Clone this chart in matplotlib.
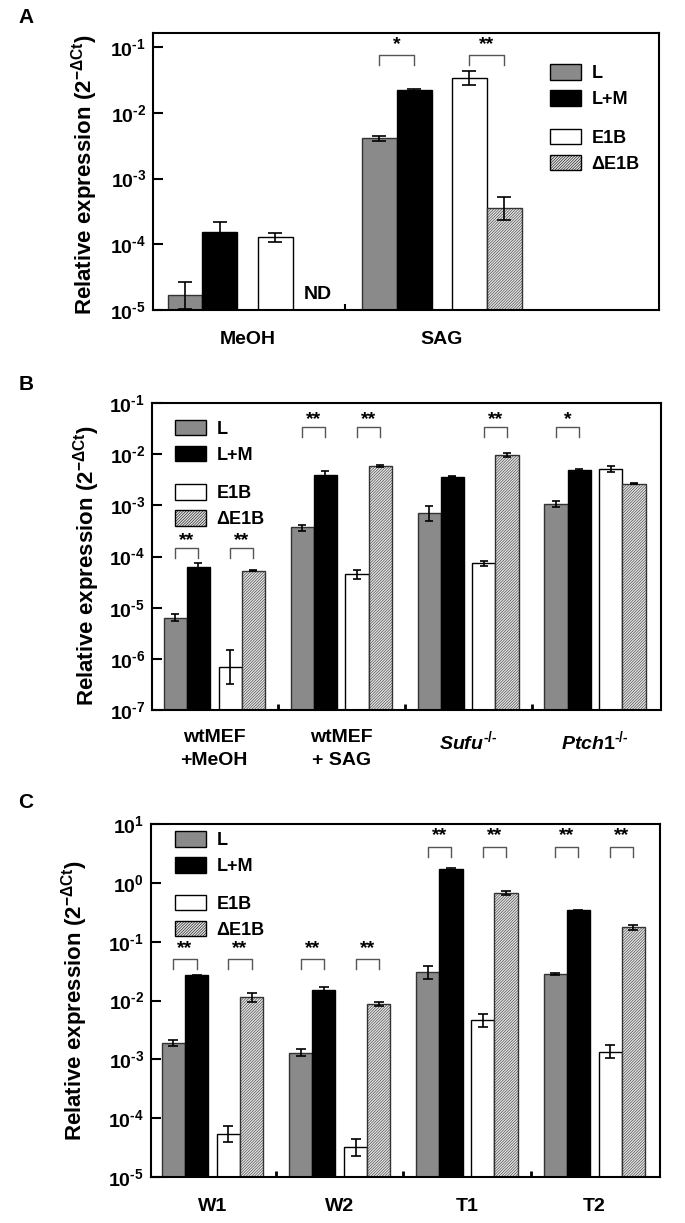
import numpy as np
import matplotlib
matplotlib.use('Agg')
from matplotlib import pyplot as plt
from matplotlib.patches import Patch
from matplotlib.ticker import FixedLocator, NullLocator

plt.rcParams['font.family'] = ['Liberation Sans', 'DejaVu Sans']
plt.rcParams['font.weight'] = 'bold'
plt.rcParams['mathtext.fontset'] = 'custom'
plt.rcParams['mathtext.rm'] = 'Liberation Sans:bold'
plt.rcParams['mathtext.it'] = 'Liberation Sans:italic:bold'
plt.rcParams['mathtext.bf'] = 'Liberation Sans:bold'
plt.rcParams['hatch.linewidth'] = 0.4

# ---------------- data ----------------
series_names = ['L', 'L+M', 'E1B', '\u0394E1B']

# panel A
groups_a = ['MeOH', 'SAG']
a_L = [1.7e-5, 4.1e-3]
a_L_lo = [1.02e-5, 3.76e-3]
a_L_hi = [2.7e-5, 4.4e-3]
a_LM = [1.52e-4, 2.22e-2]
a_LM_lo = [1.2e-4, 2.18e-2]
a_LM_hi = [2.19e-4, 2.27e-2]
a_E1B = [1.28e-4, 3.4e-2]
a_E1B_lo = [1.1e-4, 2.64e-2]
a_E1B_hi = [1.47e-4, 4.3e-2]
a_dE1B = [np.nan, 3.6e-4]          # ND for MeOH
a_dE1B_lo = [np.nan, 2.34e-4]
a_dE1B_hi = [np.nan, 5.2e-4]

# panel B
groups_b = ['wtMEF\n+MeOH', 'wtMEF\n+ SAG', r'$\mathit{Sufu}^{\text{-/-}}$',
            r'$\mathit{Ptch1}^{\text{-/-}}$']
b_L = [6.4e-6, 3.7e-4, 7.0e-4, 1.08e-3]
b_L_lo = [5.5e-6, 3.2e-4, 5.0e-4, 9.3e-4]
b_L_hi = [7.4e-6, 4.2e-4, 9.5e-4, 1.24e-3]
b_LM = [6.1e-5, 3.9e-3, 3.6e-3, 4.8e-3]
b_LM_lo = [5.0e-5, 3.4e-3, 3.5e-3, 4.5e-3]
b_LM_hi = [7.4e-5, 4.6e-3, 3.7e-3, 5.2e-3]
b_E1B = [6.8e-7, 4.5e-5, 7.3e-5, 5.2e-3]
b_E1B_lo = [3.2e-7, 3.6e-5, 6.6e-5, 4.4e-3]
b_E1B_hi = [1.5e-6, 5.4e-5, 8.0e-5, 6.0e-3]
b_dE1B = [5.3e-5, 5.8e-3, 9.7e-3, 2.67e-3]
b_dE1B_lo = [5.1e-5, 5.5e-3, 8.8e-3, 2.6e-3]
b_dE1B_hi = [5.5e-5, 6.1e-3, 1.07e-2, 2.74e-3]

# panel C
groups_c = ['W1', 'W2', 'T1', 'T2']
c_L = [1.9e-3, 1.3e-3, 3.0e-2, 2.8e-2]
c_L_lo = [1.7e-3, 1.12e-3, 2.3e-2, 2.7e-2]
c_L_hi = [2.1e-3, 1.5e-3, 3.8e-2, 2.9e-2]
c_LM = [2.7e-2, 1.48e-2, 1.7, 0.34]
c_LM_lo = [2.65e-2, 1.3e-2, 1.6, 0.33]
c_LM_hi = [2.75e-2, 1.7e-2, 1.8, 0.35]
c_E1B = [5.4e-5, 3.2e-5, 4.6e-3, 1.35e-3]
c_E1B_lo = [4.0e-5, 2.3e-5, 3.6e-3, 1.04e-3]
c_E1B_hi = [7.3e-5, 4.5e-5, 5.9e-3, 1.75e-3]
c_dE1B = [1.13e-2, 8.7e-3, 0.68, 0.177]
c_dE1B_lo = [9.6e-3, 8.0e-3, 0.62, 0.16]
c_dE1B_hi = [1.33e-2, 9.4e-3, 0.74, 0.195]

# significance brackets: (group, first series, second series, stars)
sig_a = [(1, 0, 1, '*'), (1, 2, 3, '**')]
sig_b = [(0, 0, 1, '**'), (0, 2, 3, '**'), (1, 0, 1, '**'), (1, 2, 3, '**'),
         (2, 2, 3, '**'), (3, 0, 1, '*')]
sig_c = [(g, s, s + 1, '**') for g in range(4) for s in (0, 2)]

# ---------------- styles ----------------
styles = [dict(color='#8a8a8a', edgecolor='#333333'),
          dict(color='black', edgecolor='black'),
          dict(color='white', edgecolor='black'),
          dict(color='#e4e4e4', edgecolor='#333333', hatch='/' * 12)]


def draw_panel(ax, groups, vals, los, his, offsets, width, ymin, ymax,
               xlim, capsize):
    x = np.arange(len(groups))
    for k in range(4):
        v = np.array(vals[k], dtype=float)
        lo = np.array(los[k], dtype=float)
        hi = np.array(his[k], dtype=float)
        ok = ~np.isnan(v)
        xs = x[ok] + offsets[k]
        ax.bar(xs, v[ok] - ymin, bottom=ymin, width=width, linewidth=1.0,
               zorder=2, **styles[k])
        ax.errorbar(xs, v[ok], yerr=[v[ok] - lo[ok], hi[ok] - v[ok]], fmt='none',
                    ecolor='black', elinewidth=1.2, capsize=capsize,
                    capthick=1.2, zorder=3)
    ax.set_yscale('log')
    ax.set_ylim(ymin, ymax)
    ax.set_xlim(*xlim)
    decades = np.arange(int(np.ceil(np.log10(ymin))), int(np.floor(np.log10(ymax))) + 1)
    ax.yaxis.set_major_locator(FixedLocator(10.0 ** decades))
    ax.set_yticklabels([r'$\mathrm{10}^{\text{%d}}$' % d for d in decades])
    ax.yaxis.set_minor_locator(NullLocator())
    ax.tick_params(axis='y', which='major', direction='in', length=7, width=1.5,
                   labelsize=14, pad=5, right=False)
    ax.set_xticks(x, groups, minor=True)
    ax.tick_params(axis='x', which='minor', length=0, labelsize=14, pad=13)
    for sp in ax.spines.values():
        sp.set_linewidth(1.5)
    ax.set_ylabel(r'Relative expression (2$^{\mathrm{-\Delta Ct}}$)', fontsize=16,
                  fontweight='bold')
    return x


def add_brackets(ax, sigs, x, offsets, tops, legs, stars):
    for g, s1, s2, txt in sigs:
        x1 = x[g] + offsets[s1]
        x2 = x[g] + offsets[s2]
        t, l, st = tops[g], legs[g], stars[g]
        ax.plot([x1, x1, x2, x2], [l, t, t, l], color='#555555', lw=1.0, zorder=4)
        ax.text((x1 + x2) / 2, st, txt, ha='center', va='center', fontsize=14,
                fontweight='bold', zorder=4)


def add_legend(ax, x0, ytop1, ytop2):
    handles = [Patch(facecolor=styles[k]['color'], edgecolor='black',
                     hatch=styles[k].get('hatch'), linewidth=1.0) for k in range(4)]
    kw = dict(loc='upper left', frameon=False, handlelength=1.7,
              handleheight=0.95, handletextpad=0.6, labelspacing=0.45,
              borderpad=0, borderaxespad=0, prop=dict(weight='bold', size=13))
    leg1 = ax.legend(handles[:2], series_names[:2], bbox_to_anchor=(x0, ytop1), **kw)
    ax.add_artist(leg1)
    ax.legend(handles[2:], series_names[2:], bbox_to_anchor=(x0, ytop2), **kw)


fig = plt.figure(figsize=(6.85, 12.23), dpi=100)
W, H = 685.0, 1223.0

# ----- panel A -----
axA = fig.add_axes([153 / W, 1 - 310 / H, 506 / W, 277 / H])
offs_a = [-0.322, -0.142, 0.142, 0.322]
xa = draw_panel(axA, groups_a, [a_L, a_LM, a_E1B, a_dE1B],
                [a_L_lo, a_LM_lo, a_E1B_lo, a_dE1B_lo],
                [a_L_hi, a_LM_hi, a_E1B_hi, a_dE1B_hi],
                offs_a, 0.18, 1e-5, 10 ** -0.787, (-0.487, 2.12), 5)
axA.set_xticks([0.5])
axA.set_xticklabels([''])
axA.tick_params(axis='x', which='major', direction='in', length=4, width=1.5)
axA.tick_params(axis='x', which='minor', pad=15)
axA.text(xa[0] + 0.36, 1.7e-5, 'ND', ha='center', va='center', fontsize=14,
         fontweight='bold')
add_brackets(axA, sig_a, xa, offs_a, [0, 10 ** -1.12], [0, 10 ** -1.27], [0, 10 ** -0.97])
add_legend(axA, 0.785, 0.888, 0.655)
axA.yaxis.set_label_coords(-0.104, 0.49)

# ----- panel B -----
axB = fig.add_axes([152 / W, 1 - 710 / H, 509 / W, 307 / H])
offs_bc = [-0.307, -0.125, 0.125, 0.307]
xb = draw_panel(axB, groups_b, [b_L, b_LM, b_E1B, b_dE1B],
                [b_L_lo, b_LM_lo, b_E1B_lo, b_dE1B_lo],
                [b_L_hi, b_LM_hi, b_E1B_hi, b_dE1B_hi],
                offs_bc, 0.182, 1e-7, 1e-1, (-0.49, 3.52), 3)
axB.set_xticks([0.5, 1.5, 2.5])
axB.set_xticklabels(['', '', ''])
axB.tick_params(axis='x', which='major', direction='in', length=4, width=2)
axB.tick_params(axis='x', which='minor', pad=14)
for lab in axB.get_xticklabels(minor=True):
    lab.set_linespacing(1.45)
b_top = [10 ** -3.825, 10 ** -1.478, 10 ** -1.478, 10 ** -1.478]
b_leg = [10 ** -4.034, 10 ** -1.668, 10 ** -1.668, 10 ** -1.668]
b_star = [10 ** -3.69, 10 ** -1.33, 10 ** -1.33, 10 ** -1.33]
add_brackets(axB, sig_b, xb, offs_bc, b_top, b_leg, b_star)
add_legend(axB, 0.045, 0.946, 0.735)
axB.yaxis.set_label_coords(-0.099, 0.47)

# ----- panel C -----
axC = fig.add_axes([151 / W, 1 - 1177 / H, 509 / W, 353 / H])
xc = draw_panel(axC, groups_c, [c_L, c_LM, c_E1B, c_dE1B],
                [c_L_lo, c_LM_lo, c_E1B_lo, c_dE1B_lo],
                [c_L_hi, c_LM_hi, c_E1B_hi, c_dE1B_hi],
                offs_bc, 0.182, 1e-5, 1e1, (-0.483, 3.517), 3.5)
axC.set_xticks([0.5, 1.5, 2.5])
axC.set_xticklabels(['', '', ''])
axC.tick_params(axis='x', which='major', direction='in', length=4, width=2)
axC.tick_params(axis='x', which='minor', pad=15)
c_top = [10 ** -1.302, 10 ** -1.302, 10 ** 0.617, 10 ** 0.617]
c_leg = [10 ** -1.472, 10 ** -1.472, 10 ** 0.447, 10 ** 0.447]
c_star = [10 ** -1.11, 10 ** -1.11, 10 ** 0.804, 10 ** 0.804]
add_brackets(axC, sig_c, xc, offs_bc, c_top, c_leg, c_star)
add_legend(axC, 0.047, 0.98, 0.80)
axC.yaxis.set_label_coords(-0.12, 0.5)

for lbl, yy in (('A', 17.5), ('B', 384), ('C', 802)):
    fig.text(26 / W, 1 - yy / H, lbl, ha='center', va='center', fontsize=15,
             fontweight='bold')

fig.savefig('out.png', dpi=100)
